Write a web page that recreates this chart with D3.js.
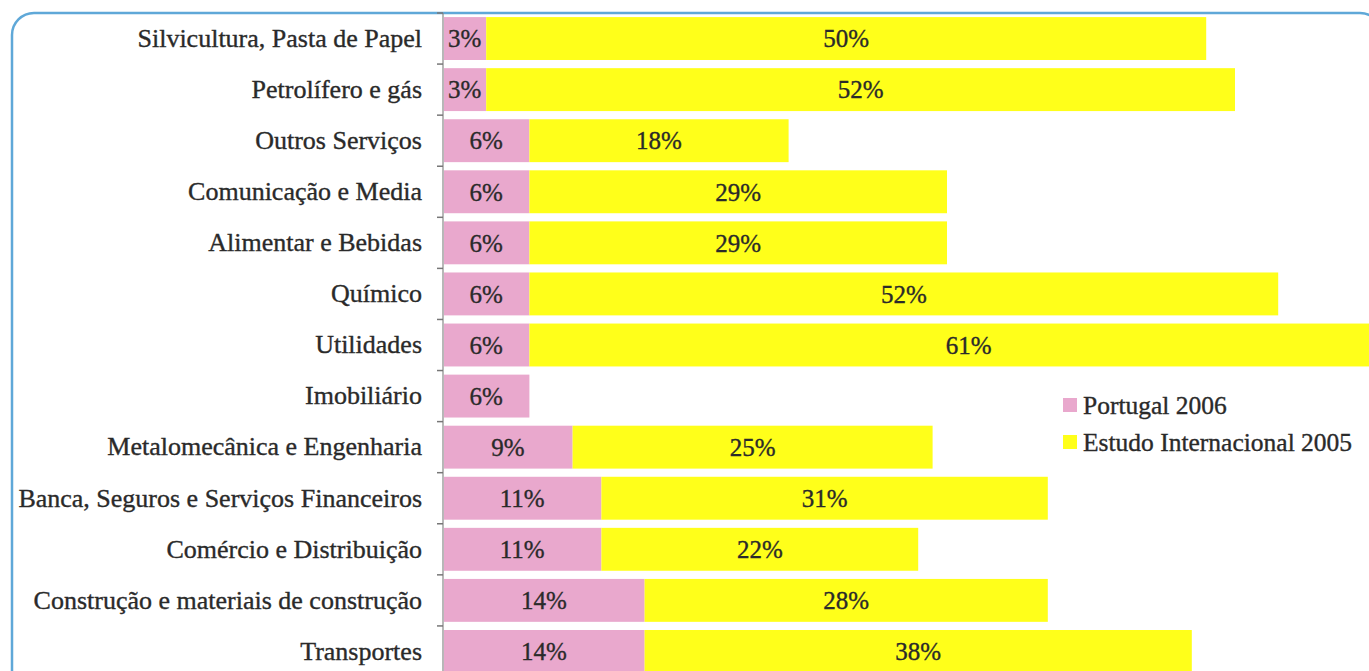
<!DOCTYPE html>
<html><head><meta charset="utf-8">
<script src="https://cdn.jsdelivr.net/npm/d3@7"></script>
<style>html,body{margin:0;padding:0;background:#fff;overflow:hidden}
text{stroke:#2a2a2a;stroke-width:0.35px}</style>
</head><body>
<svg id="c" width="1369" height="671"></svg>
<script>
const categories = ["Silvicultura, Pasta de Papel","Petrolífero e gás","Outros Serviços","Comunicação e Media","Alimentar e Bebidas","Químico","Utilidades","Imobiliário","Metalomecânica e Engenharia","Banca, Seguros e Serviços Financeiros","Comércio e Distribuição","Construção e materiais de construção","Transportes"];
const portugal2006 = [3,3,6,6,6,6,6,6,9,11,11,14,14];
const estudo2005 = [50,52,18,29,29,52,61,null,25,31,22,28,38];
const seriesNames = ["Portugal 2006","Estudo Internacional 2005"];
const colors = ["#e9a8cd","#ffff1a"];

const svg = d3.select("#c");
const font = "'Liberation Serif','Times New Roman',serif";
const textCol = "#2a2a2a";

// frame
svg.append("rect").attr("x",12).attr("y",13).attr("width",1370).attr("height",680)
  .attr("rx",22).attr("ry",22).attr("fill","none").attr("stroke","#5fa8d8").attr("stroke-width",2.5);

const x = d3.scaleLinear().domain([0,60]).range([443,443+864]);
const y = d3.scaleBand().domain(categories).range([13,677]).paddingInner(0.16).paddingOuter(0.08);

const g = svg.append("g");
categories.forEach((c,i)=>{
  const p = portugal2006[i], e = estudo2005[i];
  const yy = y(c), h = y.bandwidth();
  g.append("rect").attr("x",x(0)+1).attr("y",yy).attr("width",x(p)-x(0)-1).attr("height",h).attr("fill",colors[0]);
  g.append("text").attr("x",(x(0)+x(p))/2).attr("y",yy+h/2).attr("dy","0.35em").attr("text-anchor","middle")
    .attr("font-family",font).attr("font-size",25).attr("fill",textCol).text(p+"%");
  if(e!=null){
    g.append("rect").attr("x",x(p)).attr("y",yy).attr("width",x(p+e)-x(p)).attr("height",h).attr("fill",colors[1]);
    g.append("text").attr("x",(x(p)+x(p+e))/2).attr("y",yy+h/2).attr("dy","0.35em").attr("text-anchor","middle")
      .attr("font-family",font).attr("font-size",25).attr("fill",textCol).text(e+"%");
  }
});

// axis
const ax = svg.append("g").attr("transform",`translate(${x(0)},0)`).call(d3.axisLeft(y).tickSize(0).tickPadding(21));
ax.select(".domain").attr("stroke","#888").attr("stroke-width",1.2).attr("d",`M0,13V671`);
ax.selectAll("text").attr("font-family",font).attr("font-size",26).attr("fill",textCol);
// boundary ticks
const bounds = categories.map(c=>y(c)-y.step()*y.paddingInner()/2);
svg.append("g").selectAll("line").data(bounds).join("line")
  .attr("x1",x(0)-6).attr("x2",x(0)).attr("y1",d=>d).attr("y2",d=>d).attr("stroke","#777").attr("stroke-width",1.5);

// legend
const lg = svg.append("g").attr("transform","translate(1063,405)");
seriesNames.forEach((n,i)=>{
  lg.append("rect").attr("x",0).attr("y",i*37-7).attr("width",14).attr("height",14).attr("fill",colors[i]);
  lg.append("text").attr("x",20).attr("y",i*37).attr("dy","0.35em").attr("font-family",font).attr("font-size",25.5).attr("fill",textCol).text(n);
});
</script>
</body></html>
